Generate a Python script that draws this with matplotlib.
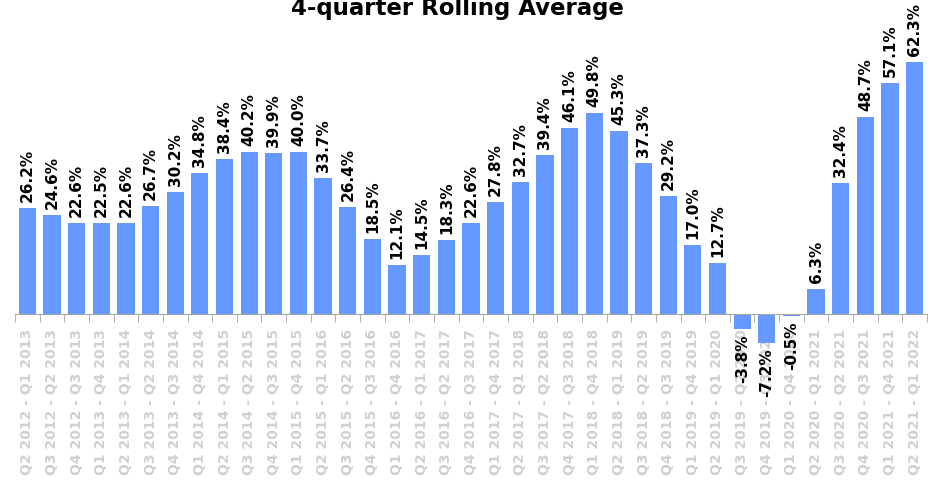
import numpy as np
import matplotlib
matplotlib.use('Agg')
import matplotlib.pyplot as plt

# 4-quarter rolling windows, oldest first
periods = ['Q2 2012 - Q1 2013', 'Q3 2012 - Q2 2013', 'Q4 2012 - Q3 2013',
           'Q1 2013 - Q4 2013', 'Q2 2013 - Q1 2014', 'Q3 2013 - Q2 2014',
           'Q4 2013 - Q3 2014', 'Q1 2014 - Q4 2014', 'Q2 2014 - Q1 2015',
           'Q3 2014 - Q2 2015', 'Q4 2014 - Q3 2015', 'Q1 2015 - Q4 2015',
           'Q2 2015 - Q1 2016', 'Q3 2015 - Q2 2016', 'Q4 2015 - Q3 2016',
           'Q1 2016 - Q4 2016', 'Q2 2016 - Q1 2017', 'Q3 2016 - Q2 2017',
           'Q4 2016 - Q3 2017', 'Q1 2017 - Q4 2017', 'Q2 2017 - Q1 2018',
           'Q3 2017 - Q2 2018', 'Q4 2017 - Q3 2018', 'Q1 2018 - Q4 2018',
           'Q2 2018 - Q1 2019', 'Q3 2018 - Q2 2019', 'Q4 2018 - Q3 2019',
           'Q1 2019 - Q4 2019', 'Q2 2019 - Q1 2020', 'Q3 2019 - Q2 2020',
           'Q4 2019 - Q3 2020', 'Q1 2020 - Q4 2020', 'Q2 2020 - Q1 2021',
           'Q3 2020 - Q2 2021', 'Q4 2020 - Q3 2021', 'Q1 2021 - Q4 2021',
           'Q2 2021 - Q1 2022']

growth = [26.2, 24.6, 22.6, 22.5, 22.6, 26.7, 30.2, 34.8, 38.4, 40.2,
          39.9, 40.0, 33.7, 26.4, 18.5, 12.1, 14.5, 18.3, 22.6, 27.8,
          32.7, 39.4, 46.1, 49.8, 45.3, 37.3, 29.2, 17.0, 12.7, -3.8,
          -7.2, -0.5, 6.3, 32.4, 48.7, 57.1, 62.3]

fig = plt.figure(figsize=(9.3, 4.85), dpi=100)
ax = fig.add_axes([15 / 930, 1 - 355.4 / 485, 912 / 930, 315.1 / 485])

x = np.arange(len(growth))
ax.bar(x, growth, width=0.7, color='#6699ff', zorder=2)

ax.set_xlim(-0.5, len(growth) - 0.5)
ax.set_ylim(-10, 68)

for xi, v in zip(x, growth):
    off = 5 if v >= 0 else -3
    ax.annotate(f'{v:.1f}%', (xi, v), xytext=(0, off),
                textcoords='offset points', rotation=90,
                ha='center', va='bottom' if v >= 0 else 'top',
                fontsize=11, fontweight='bold', color='black', zorder=5)

# axis line at zero, tick marks between bars, labels under bars
for s in ('left', 'right', 'top'):
    ax.spines[s].set_visible(False)
ax.spines['bottom'].set_position(('data', 0))
ax.spines['bottom'].set_color('#a6a6a6')
ax.yaxis.set_visible(False)

ax.set_xticks(x)
ax.set_xticklabels(periods, rotation=90, fontsize=10, fontweight='bold',
                   color='#d0d0d0')
ax.tick_params(axis='x', which='major', length=0, pad=10)
ax.set_xticks(np.arange(len(growth) + 1) - 0.5, minor=True)
ax.tick_params(axis='x', which='minor', length=6, color='#a6a6a6')

fig.text(0.492, 1 - 15 / 485, '4-quarter Rolling Average', ha='center',
         va='baseline', fontsize=16.5, fontweight='bold')

fig.savefig('out.png', dpi=100)
